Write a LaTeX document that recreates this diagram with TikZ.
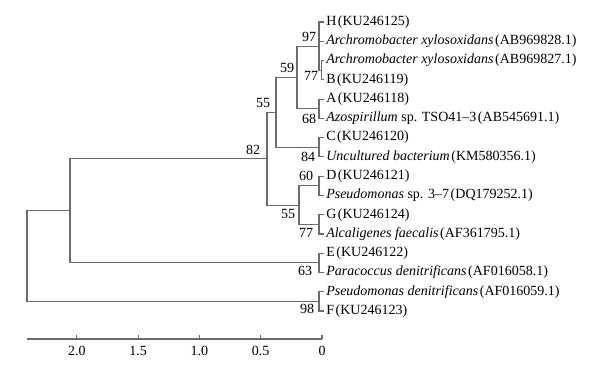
\documentclass[tikz,border=0pt]{standalone}
\usepackage{fontspec}
\setmainfont{Liberation Serif}
\usepackage{tikz}
\definecolor{treegray}{rgb}{0.42,0.42,0.42}
\newcommand{\acc}[1]{\kern1.2pt(#1)}
\tikzset{
  branch/.style={draw=treegray,line width=0.8pt},
  leaf/.style={anchor=west,inner xsep=1.5pt,inner ysep=0pt,font=\fontsize{10.5}{12}\selectfont},
  boot/.style={inner sep=0pt,font=\fontsize{10.5}{12}\selectfont}
}

\begin{document}
\begin{tikzpicture}[x=0.75pt,y=-0.75pt]
      \useasboundingbox (0,0) rectangle (601,370);

      %% leaves
      \node[leaf] (H) at (324,22.0) {H\acc{KU246125}};
      \node[leaf] (AXa) at (324,41.3) {\textit{Archromobacter xylosoxidans}\acc{AB969828.1}};
      \node[leaf] (AXb) at (324,60.5) {\textit{Archromobacter xylosoxidans}\acc{AB969827.1}};
      \node[leaf] (B) at (324,79.8) {B\acc{KU246119}};
      \node[leaf] (A) at (324,99.1) {A\acc{KU246118}};
      \node[leaf] (Azo) at (324,118.4) {\textit{Azospirillum} sp. TSO41--3\acc{AB545691.1}};
      \node[leaf] (C) at (324,137.6) {C\acc{KU246120}};
      \node[leaf] (Unc) at (324,156.9) {\textit{Uncultured bacterium}\acc{KM580356.1}};
      \node[leaf] (D) at (324,176.2) {D\acc{KU246121}};
      \node[leaf] (Ps) at (324,195.4) {\textit{Pseudomonas} sp. 3--7\acc{DQ179252.1}};
      \node[leaf] (G) at (324,214.7) {G\acc{KU246124}};
      \node[leaf] (Alc) at (324,234.0) {\textit{Alcaligenes faecalis}\acc{AF361795.1}};
      \node[leaf] (E) at (324,253.2) {E\acc{KU246122}};
      \node[leaf] (Par) at (324,272.5) {\textit{Paracoccus denitrificans}\acc{AF016058.1}};
      \node[leaf] (PsD) at (324,291.8) {\textit{Pseudomonas denitrificans}\acc{AF016059.1}};
      \node[leaf] (F) at (324,311.0) {F\acc{KU246123}};

      %% internal nodes
      \coordinate (n77a) at (321.5,70.2);
      \coordinate (n97) at (319,46.1);
      \coordinate (n68) at (319,108.8);
      \coordinate (n59) at (297,77.4);
      \coordinate (n84) at (319,147.3);
      \coordinate (n55a) at (276,112.3);
      \coordinate (n60) at (319,185.8);
      \coordinate (n77b) at (319,224.4);
      \coordinate (n55b) at (299,205.1);
      \coordinate (n82) at (267,158.7);
      \coordinate (n63) at (319,262.9);
      \coordinate (nin) at (70,210.8);
      \coordinate (n98) at (319,301.4);
      \coordinate (root) at (27,256.1);

      %% branches
      \draw[branch] (n77a) |- (AXb.west);
      \draw[branch] (n77a) |- (B.west);
      \draw[branch] (n97) |- (H.west);
      \draw[branch] (n97) |- (AXa.west);
      \draw[branch] (n97) |- (n77a);
      \draw[branch] (n68) |- (A.west);
      \draw[branch] (n68) |- (Azo.west);
      \draw[branch] (n59) |- (n97);
      \draw[branch] (n59) |- (n68);
      \draw[branch] (n84) |- (C.west);
      \draw[branch] (n84) |- (Unc.west);
      \draw[branch] (n55a) |- (n59);
      \draw[branch] (n55a) |- (n84);
      \draw[branch] (n60) |- (D.west);
      \draw[branch] (n60) |- (Ps.west);
      \draw[branch] (n77b) |- (G.west);
      \draw[branch] (n77b) |- (Alc.west);
      \draw[branch] (n55b) |- (n60);
      \draw[branch] (n55b) |- (n77b);
      \draw[branch] (n82) |- (n55a);
      \draw[branch] (n82) |- (n55b);
      \draw[branch] (n63) |- (E.west);
      \draw[branch] (n63) |- (Par.west);
      \draw[branch] (nin) |- (n82);
      \draw[branch] (nin) |- (n63);
      \draw[branch] (n98) |- (PsD.west);
      \draw[branch] (n98) |- (F.west);
      \draw[branch] (root) |- (nin);
      \draw[branch] (root) |- (n98);

      %% bootstrap values
      \node[boot] (b97) at (309,37) {97};
      \node[boot] (b77a) at (311,76) {77};
      \node[boot] (b59) at (287,68) {59};
      \node[boot] (b55a) at (263,103) {55};
      \node[boot] (b68) at (309,119) {68};
      \node[boot] (b82) at (253,150) {82};
      \node[boot] (b84) at (308,157) {84};
      \node[boot] (b60) at (306,176) {60};
      \node[boot] (b55b) at (288,214) {55};
      \node[boot] (b77b) at (306,233) {77};
      \node[boot] (b63) at (305,271) {63};
      \node[boot] (b98) at (307,309) {98};

      %% scale axis
      \coordinate (axl) at (27,339);
      \coordinate (axr) at (322,339);
      \draw[branch] (axl) -- (axr);
      \foreach \v/\t [count=\i] in {0/0,0.5/0.5,1.0/1.0,1.5/1.5,2.0/2.0}{
        \draw[branch] ({322-122.6*\v},339) -- ++(0,-3.5);
        \node[boot] (tick\i) at ({322-122.6*\v},351) {\t};
      }
    \end{tikzpicture}
\end{document}
